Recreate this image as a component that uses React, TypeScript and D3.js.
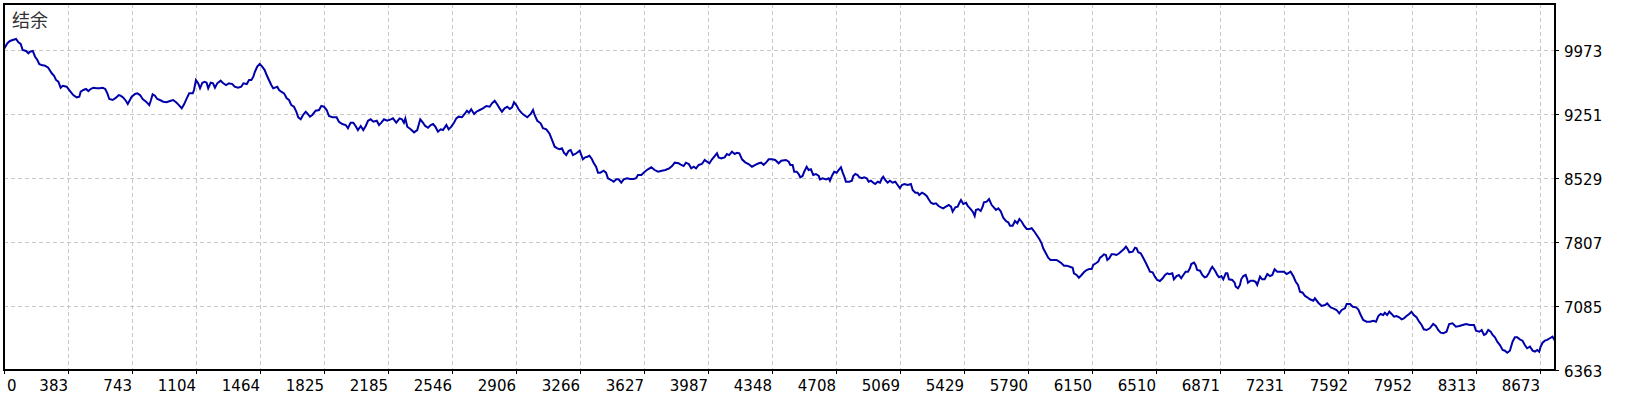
import React from "react";
import * as d3 from "d3";

// balance curve: [trade number, balance]
const chartTitle = "结余";

const xTickLabels = [
  "0", "383", "743", "1104", "1464", "1825", "2185", "2546", "2906", "3266", "3627", "3987", "4348",
  "4708", "5069", "5429", "5790", "6150", "6510", "6871", "7231", "7592", "7952", "8313", "8673",
];

const yTickValues = [6363, 7085, 7807, 8529, 9251, 9973];
const yTop = 10492;
const lastTrade = 8734;

const balancePoints: [number, number][] = [
  [0, 9984], [19, 10049], [34, 10075], [49, 10086], [68, 10097], [81, 10060], [94, 10041], [105, 9973], [124, 9962], [137, 9936],
  [146, 9954], [162, 9962], [175, 9897], [188, 9860], [199, 9812], [212, 9804], [231, 9796], [249, 9773], [269, 9710], [282, 9683],
  [293, 9635], [306, 9615], [319, 9548], [331, 9570], [353, 9559], [372, 9510], [390, 9465], [409, 9439], [424, 9446], [432, 9503],
  [447, 9522], [462, 9533], [475, 9510], [488, 9533], [503, 9548], [522, 9541], [537, 9541], [556, 9548], [570, 9533], [582, 9484],
  [593, 9420], [612, 9409], [631, 9435], [646, 9465], [657, 9457], [672, 9435], [687, 9398], [697, 9364], [706, 9398], [719, 9446],
  [738, 9477], [751, 9484], [766, 9465], [781, 9420], [800, 9390], [818, 9352], [826, 9398], [837, 9473], [850, 9457], [863, 9420],
  [878, 9409], [897, 9390], [916, 9383], [935, 9398], [953, 9409], [969, 9383], [981, 9360], [1001, 9315], [1014, 9360], [1029, 9428],
  [1043, 9484], [1063, 9484], [1070, 9522], [1081, 9635], [1094, 9597],
  [1104, 9541], [1117, 9604], [1130, 9615], [1141, 9604], [1150, 9541], [1164, 9604], [1177, 9597], [1188, 9548], [1201, 9597], [1220, 9627],
  [1235, 9597], [1250, 9578], [1267, 9597], [1286, 9589], [1299, 9559], [1318, 9548], [1336, 9559], [1348, 9597], [1367, 9589], [1380, 9635],
  [1393, 9635], [1404, 9672], [1413, 9728], [1426, 9785], [1440, 9815], [1454, 9785], [1468, 9747], [1479, 9691], [1492, 9635], [1505, 9578],
  [1516, 9541], [1530, 9552], [1539, 9559], [1549, 9522], [1561, 9503], [1577, 9484], [1592, 9428], [1605, 9409], [1618, 9352], [1633, 9333],
  [1646, 9277], [1657, 9214], [1671, 9191], [1684, 9240], [1699, 9277], [1708, 9259], [1723, 9221], [1736, 9240], [1755, 9288], [1774, 9296],
  [1787, 9341], [1802, 9333], [1817, 9296], [1830, 9228], [1849, 9214], [1873, 9214], [1886, 9164], [1905, 9138], [1924, 9127], [1937, 9090],
  [1952, 9153], [1967, 9153], [1980, 9116], [1993, 9070], [2009, 9116], [2023, 9070], [2037, 9116], [2050, 9175], [2065, 9191], [2080, 9164],
  [2099, 9175], [2112, 9127], [2125, 9153], [2140, 9191], [2158, 9175], [2178, 9191],
  [2190, 9202], [2209, 9153], [2228, 9202], [2241, 9191], [2252, 9153], [2260, 9202], [2271, 9108], [2290, 9078], [2309, 9044], [2327, 9070],
  [2335, 9127], [2344, 9191], [2359, 9153], [2372, 9116], [2388, 9096], [2403, 9127], [2416, 9138], [2429, 9108], [2444, 9051], [2459, 9078],
  [2472, 9070], [2491, 9127], [2504, 9078], [2519, 9108], [2534, 9153], [2547, 9202], [2560, 9221], [2579, 9214], [2594, 9251], [2607, 9288],
  [2618, 9266], [2631, 9304], [2647, 9251], [2660, 9277], [2679, 9296], [2697, 9315], [2716, 9341], [2735, 9333], [2748, 9372], [2763, 9401],
  [2776, 9364], [2791, 9315], [2804, 9277], [2819, 9315], [2834, 9333], [2848, 9307], [2861, 9327], [2872, 9383], [2885, 9352], [2898, 9304],
  [2913, 9266], [2928, 9240], [2947, 9214], [2966, 9251], [2979, 9296], [2988, 9240], [3003, 9175], [3022, 9146], [3035, 9090], [3054, 9078],
  [3073, 9025], [3086, 8958], [3101, 8882], [3116, 8864], [3129, 8853], [3142, 8864], [3153, 8814], [3166, 8788], [3180, 8837], [3191, 8845],
  [3204, 8788], [3223, 8808], [3242, 8837], [3251, 8788], [3260, 8740], [3273, 8762], [3285, 8769],
  [3297, 8780], [3311, 8740], [3320, 8702], [3334, 8656], [3345, 8589], [3358, 8589], [3377, 8611], [3390, 8589], [3401, 8526], [3420, 8506],
  [3433, 8487], [3448, 8514], [3461, 8514], [3476, 8476], [3490, 8514], [3508, 8526], [3527, 8518], [3546, 8518], [3559, 8526], [3570, 8563],
  [3589, 8563], [3608, 8600], [3626, 8627], [3645, 8650], [3664, 8619], [3683, 8600], [3705, 8611], [3724, 8619], [3746, 8638], [3762, 8664],
  [3777, 8702], [3799, 8695], [3814, 8676], [3827, 8664], [3840, 8702], [3856, 8687], [3870, 8638], [3884, 8656], [3897, 8638], [3912, 8676],
  [3930, 8687], [3946, 8732], [3959, 8713], [3972, 8695], [3987, 8740], [4002, 8777], [4015, 8808], [4024, 8762], [4039, 8751], [4058, 8762],
  [4071, 8800], [4084, 8788], [4099, 8826], [4115, 8800], [4128, 8814], [4141, 8808], [4156, 8740], [4174, 8706], [4193, 8687], [4212, 8656],
  [4231, 8676], [4250, 8695], [4264, 8702], [4278, 8676], [4296, 8713], [4306, 8740], [4325, 8740], [4343, 8732], [4362, 8695], [4377, 8724],
  [4403, 8732], [4419, 8713], [4428, 8676], [4441, 8676], [4450, 8600], [4464, 8600], [4475, 8574], [4484, 8537], [4497, 8552], [4506, 8600],
  [4520, 8656], [4531, 8619], [4544, 8627], [4557, 8563], [4572, 8574], [4588, 8552], [4595, 8514], [4610, 8526], [4629, 8514], [4644, 8526],
  [4651, 8498], [4662, 8552], [4675, 8600], [4689, 8589], [4700, 8619], [4713, 8650], [4723, 8589], [4732, 8544], [4741, 8487], [4760, 8487],
  [4775, 8498], [4782, 8552], [4794, 8574], [4807, 8563], [4816, 8537], [4831, 8526], [4844, 8537], [4858, 8526], [4869, 8487], [4882, 8498],
  [4895, 8476], [4906, 8461], [4920, 8487], [4933, 8476], [4944, 8526], [4951, 8544], [4963, 8506], [4976, 8476], [4989, 8498], [5004, 8476],
  [5019, 8487], [5032, 8450], [5045, 8413], [5056, 8450], [5070, 8461], [5089, 8450], [5107, 8461], [5117, 8394], [5132, 8363], [5145, 8363],
  [5154, 8337], [5169, 8363], [5182, 8349], [5196, 8326], [5207, 8289], [5220, 8250], [5233, 8236], [5248, 8244], [5263, 8213], [5276, 8198],
  [5289, 8187], [5304, 8205], [5320, 8224], [5333, 8205], [5342, 8149], [5357, 8198], [5370, 8205], [5379, 8244], [5389, 8281], [5402, 8236],
  [5418, 8250], [5427, 8213], [5440, 8187], [5455, 8149], [5466, 8100],
  [5473, 8168], [5486, 8179], [5500, 8157], [5511, 8205], [5518, 8255], [5534, 8262], [5547, 8292], [5562, 8224], [5575, 8194], [5586, 8168],
  [5599, 8187], [5612, 8157], [5627, 8081], [5642, 8044], [5655, 8029], [5665, 7991], [5680, 7991], [5693, 8044], [5706, 8018], [5718, 8067],
  [5731, 8036], [5744, 7991], [5759, 7954], [5774, 7954], [5787, 7962], [5800, 7931], [5815, 7886], [5830, 7841], [5843, 7792], [5852, 7736],
  [5867, 7680], [5880, 7630], [5893, 7604], [5908, 7604], [5927, 7604], [5942, 7585], [5955, 7567], [5969, 7540], [5984, 7540], [6002, 7528],
  [6018, 7517], [6025, 7454], [6040, 7435], [6053, 7404], [6068, 7435], [6081, 7465], [6096, 7491], [6111, 7502], [6125, 7502], [6134, 7548],
  [6149, 7567], [6162, 7585], [6172, 7630], [6181, 7641], [6194, 7668], [6205, 7660], [6213, 7604], [6224, 7623], [6237, 7668], [6250, 7668],
  [6265, 7660], [6280, 7680], [6294, 7706], [6307, 7728], [6318, 7754], [6325, 7736], [6337, 7691], [6356, 7698], [6369, 7743], [6378, 7736],
  [6387, 7691], [6401, 7680], [6415, 7630], [6431, 7567], [6443, 7517], [6453, 7472], [6468, 7465], [6481, 7416], [6494, 7378], [6509, 7367],
  [6525, 7398], [6538, 7435], [6551, 7454], [6562, 7443],
  [6579, 7454], [6588, 7386], [6603, 7423], [6616, 7435], [6629, 7398], [6641, 7435], [6654, 7472], [6667, 7472], [6678, 7510], [6686, 7559],
  [6701, 7574], [6710, 7548], [6719, 7491], [6735, 7483], [6748, 7435], [6761, 7409], [6772, 7416], [6786, 7461], [6795, 7499], [6804, 7528],
  [6814, 7499], [6823, 7472], [6832, 7435], [6842, 7409], [6855, 7423], [6866, 7386], [6880, 7454], [6889, 7454], [6898, 7386], [6917, 7378],
  [6930, 7348], [6936, 7303], [6949, 7285], [6960, 7322], [6967, 7386], [6979, 7423], [6992, 7435], [7001, 7386], [7005, 7348], [7020, 7370],
  [7035, 7370], [7048, 7359], [7057, 7322], [7073, 7416], [7085, 7386], [7099, 7386], [7114, 7446], [7129, 7423], [7142, 7435], [7155, 7499],
  [7170, 7472], [7189, 7472], [7208, 7472], [7223, 7446], [7236, 7461], [7245, 7472], [7260, 7423], [7274, 7359], [7287, 7322], [7298, 7246],
  [7313, 7235], [7326, 7198], [7339, 7183], [7354, 7161], [7373, 7145], [7382, 7172], [7401, 7122], [7420, 7085], [7439, 7096], [7451, 7115],
  [7471, 7070], [7485, 7059], [7504, 7040], [7519, 7003], [7533, 7040], [7551, 7059], [7561, 7108], [7580, 7108], [7595, 7077], [7613, 7070],
  [7626, 7048], [7640, 6984], [7654, 6927], [7673, 6908], [7692, 6908], [7711, 6919], [7726, 6908], [7739, 6972], [7752, 6995], [7767, 6984],
  [7776, 7009], [7789, 6984], [7801, 7021], [7814, 6995], [7827, 6964], [7842, 6972], [7857, 6958], [7870, 6935], [7883, 6946], [7898, 6972],
  [7913, 6995], [7926, 7021], [7939, 6984], [7954, 6958], [7969, 6908], [7983, 6871], [7995, 6822], [8011, 6814], [8029, 6833], [8048, 6882],
  [8063, 6859], [8076, 6814], [8090, 6784], [8105, 6777], [8123, 6795], [8138, 6882], [8157, 6890], [8176, 6852], [8195, 6859], [8214, 6871],
  [8233, 6882], [8255, 6871], [8278, 6871], [8289, 6806], [8308, 6795], [8321, 6814], [8334, 6758], [8345, 6769], [8358, 6814], [8372, 6795],
  [8383, 6758], [8396, 6732], [8409, 6682], [8424, 6645], [8439, 6589], [8452, 6581], [8465, 6558], [8480, 6581], [8495, 6682], [8508, 6732],
  [8521, 6732], [8536, 6709], [8551, 6694], [8564, 6645], [8577, 6608], [8593, 6626], [8608, 6581], [8621, 6570], [8634, 6589], [8645, 6570],
  [8653, 6626], [8664, 6671], [8677, 6694], [8690, 6702], [8705, 6721], [8720, 6739], [8734, 6694],
];

const W = 1640;
const H = 400;
const plot = { left: 4, top: 4, right: 1555, bottom: 370 };
const font = "'DejaVu Sans', Verdana, sans-serif";

export default function App() {
  const x = d3.scaleLinear().domain([0, lastTrade]).range([plot.left, plot.right]);
  const y = d3.scaleLinear().domain([yTickValues[0], yTop]).range([plot.bottom, plot.top]);
  // MT5 spaces the bottom labels evenly, so place them by index
  const xTick = d3.scaleLinear().domain([0, xTickLabels.length - 1]).range([plot.left, 1540]);

  const line = d3.line<[number, number]>()
    .x(d => x(d[0]))
    .y(d => y(d[1]));

  return (
    <svg width={W} height={H} style={{ position: "absolute", left: 0, top: 0, background: "#fff" }}>
      {/* grid */}
      <g stroke="#c8c8c8" strokeWidth={1} strokeDasharray="4,3" shapeRendering="crispEdges">
        {xTickLabels.slice(1).map((_, i) => (
          <line key={"vx" + i} x1={xTick(i + 1)} x2={xTick(i + 1)} y1={plot.top} y2={plot.bottom} />
        ))}
        {yTickValues.slice(1).map(v => (
          <line key={"hy" + v} x1={plot.left} x2={plot.right} y1={y(v)} y2={y(v)} />
        ))}
      </g>

      <path d={line(balancePoints) || ""} fill="none" stroke="#0000aa" strokeWidth={2} strokeLinejoin="miter" />

      {/* frame */}
      <rect x={plot.left} y={plot.top} width={plot.right - plot.left} height={plot.bottom - plot.top}
        fill="none" stroke="#000" strokeWidth={1.5} shapeRendering="crispEdges" />

      {/* bottom ticks and labels */}
      <g fontFamily={font} fontSize={15} fill="#000">
        {xTickLabels.map((t, i) => (
          <g key={"xt" + i}>
            <line x1={xTick(i)} x2={xTick(i)} y1={plot.bottom} y2={plot.bottom + 4} stroke="#000" shapeRendering="crispEdges" />
            <text x={i === 0 ? xTick(i) + 3 : xTick(i)} y={391} textAnchor={i === 0 ? "start" : "end"}>{t}</text>
          </g>
        ))}
      </g>

      {/* right ticks and labels */}
      <g fontFamily={font} fontSize={15} fill="#000">
        {yTickValues.map(v => (
          <g key={"yt" + v}>
            <line x1={plot.right} x2={plot.right + 4} y1={y(v)} y2={y(v)} stroke="#000" shapeRendering="crispEdges" />
            <text x={plot.right + 9} y={y(v) + 6.5}>{v}</text>
          </g>
        ))}
      </g>

      <text x={12} y={27} fontFamily="'Noto Sans CJK SC', sans-serif" fontSize={18} fill="#333">{chartTitle}</text>
    </svg>
  );
}
